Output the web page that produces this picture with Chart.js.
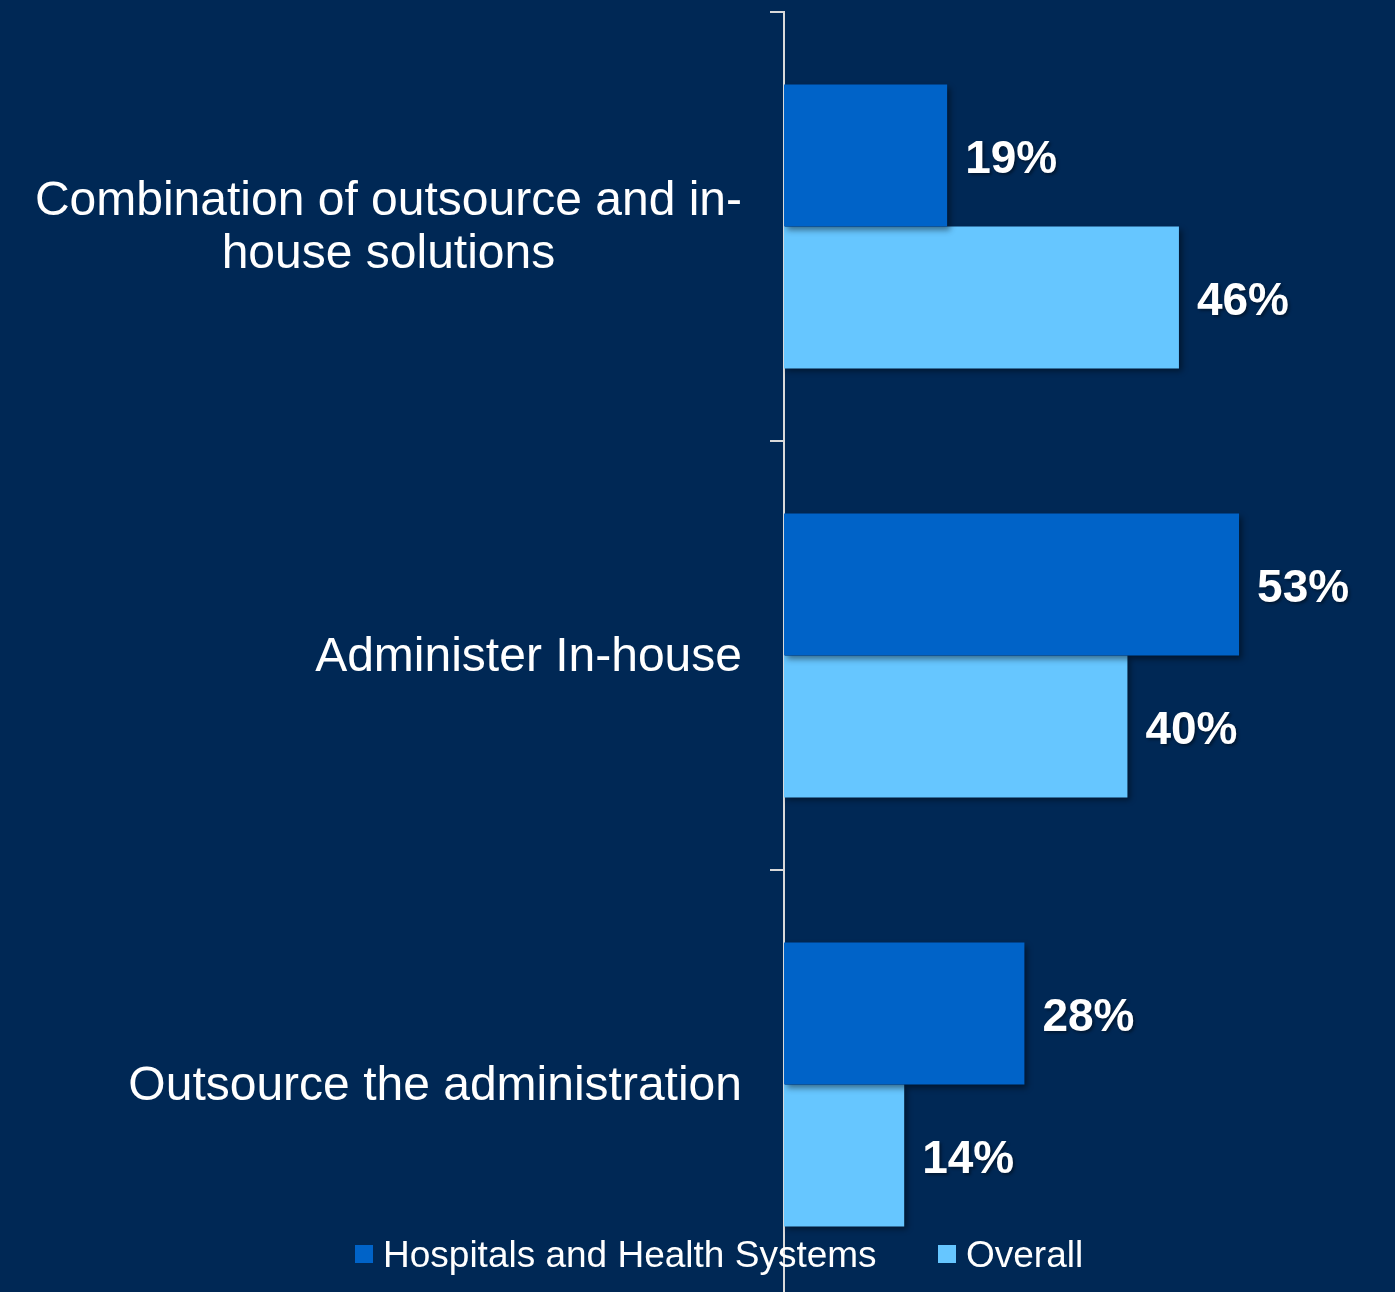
<!DOCTYPE html>
<html>
<head>
<meta charset="utf-8">
<script src="https://cdn.jsdelivr.net/npm/chart.js@4"></script>
<style>
  html, body { margin: 0; padding: 0; background: #002855; overflow: hidden; }
  canvas { display: block; }
</style>
</head>
<body>
<canvas id="chart" width="1395" height="1300"></canvas>
<script>
// Chart data
const categories = [
  ['Combination of outsource and in-', 'house solutions'],
  ['Administer In-house'],
  ['Outsource the administration']
];
const seriesNames = ['Hospitals and Health Systems', 'Overall'];
const hospitalsValues = [19, 53, 28];
const overallValues = [46, 40, 14];

const DARK = '#0063C8';
const LIGHT = '#66C6FF';
const FONT = "'Liberation Sans', Arial, sans-serif";

// Bar shadow
const shadowPlugin = {
  id: 'barShadow',
  beforeDatasetsDraw(chart) {
    const ctx = chart.ctx;
    ctx.save();
    ctx.shadowColor = 'rgba(0, 0, 0, 0.45)';
    ctx.shadowBlur = 6;
    ctx.shadowOffsetX = 3;
    ctx.shadowOffsetY = 3;
  },
  afterDatasetsDraw(chart) {
    chart.ctx.restore();
  }
};

// Value labels at the end of each bar
const valueLabels = {
  id: 'valueLabels',
  afterDatasetsDraw(chart) {
    const ctx = chart.ctx;
    ctx.save();
    ctx.font = 'bold 46px ' + FONT;
    ctx.fillStyle = '#ffffff';
    ctx.textAlign = 'left';
    ctx.textBaseline = 'middle';
    ctx.shadowColor = 'rgba(0, 0, 0, 0.4)';
    ctx.shadowBlur = 3;
    ctx.shadowOffsetX = 2;
    ctx.shadowOffsetY = 2;
    chart.data.datasets.forEach((ds, di) => {
      chart.getDatasetMeta(di).data.forEach((bar, i) => {
        ctx.fillText(ds.data[i] + '%', bar.x + 18, bar.y + 5);
      });
    });
    ctx.restore();
  }
};

// Category labels: lines centred on each other, block right aligned
const categoryLabels = {
  id: 'categoryLabels',
  afterDraw(chart) {
    const ctx = chart.ctx;
    const scale = chart.scales.y;
    ctx.save();
    ctx.font = '48px ' + FONT;
    ctx.fillStyle = '#ffffff';
    ctx.textAlign = 'center';
    ctx.textBaseline = 'middle';
    const right = 742;
    const lineH = 53;
    categories.forEach((lines, i) => {
      const y = scale.getPixelForTick(i) + 2;
      const maxW = Math.max(...lines.map(l => ctx.measureText(l).width));
      const cx = right - maxW / 2;
      const top = y - (lines.length - 1) * lineH / 2;
      lines.forEach((l, j) => ctx.fillText(l, cx, top + j * lineH));
    });
    ctx.restore();
  }
};

// Legend drawn over the chart bottom
const bottomLegend = {
  id: 'bottomLegend',
  afterDraw(chart) {
    const ctx = chart.ctx;
    ctx.save();
    ctx.font = '37px ' + FONT;
    ctx.textBaseline = 'middle';
    ctx.textAlign = 'left';
    const y = 1254;
    const starts = [355, 938];
    chart.data.datasets.forEach((ds, i) => {
      const x = starts[i];
      ctx.fillStyle = ds.backgroundColor;
      ctx.fillRect(x, y - 9, 18, 18);
      ctx.fillStyle = '#ffffff';
      ctx.fillText(ds.label, x + 28, y + 3);
    });
    ctx.restore();
  }
};

const ctx = document.getElementById('chart').getContext('2d');
const chart = new Chart(ctx, {
  type: 'bar',
  data: {
    labels: categories,
    datasets: [
      { label: seriesNames[0], data: hospitalsValues, backgroundColor: DARK, borderWidth: 0 },
      { label: seriesNames[1], data: overallValues, backgroundColor: LIGHT, borderWidth: 0 }
    ]
  },
  options: {
    indexAxis: 'y',
    responsive: false,
    animation: false,
    maintainAspectRatio: false,
    layout: { padding: { top: 12, bottom: 1, right: 10, left: 0 } },
    datasets: {
      bar: { categoryPercentage: 0.662, barPercentage: 1 }
    },
    scales: {
      x: {
        display: false,
        min: 0,
        max: 70
      },
      y: {
        offset: true,
        ticks: { display: false },
        grid: {
          drawOnChartArea: false,
          drawTicks: true,
          tickLength: 14,
          color: '#d9d9d9',
          lineWidth: 2
        },
        border: { display: true, color: '#d9d9d9', width: 2 },
        afterFit(scale) { scale.width = 784; }
      }
    },
    plugins: {
      legend: { display: false },
      tooltip: { enabled: false }
    }
  },
  plugins: [shadowPlugin, valueLabels, categoryLabels, bottomLegend]
});
</script>
</body>
</html>
